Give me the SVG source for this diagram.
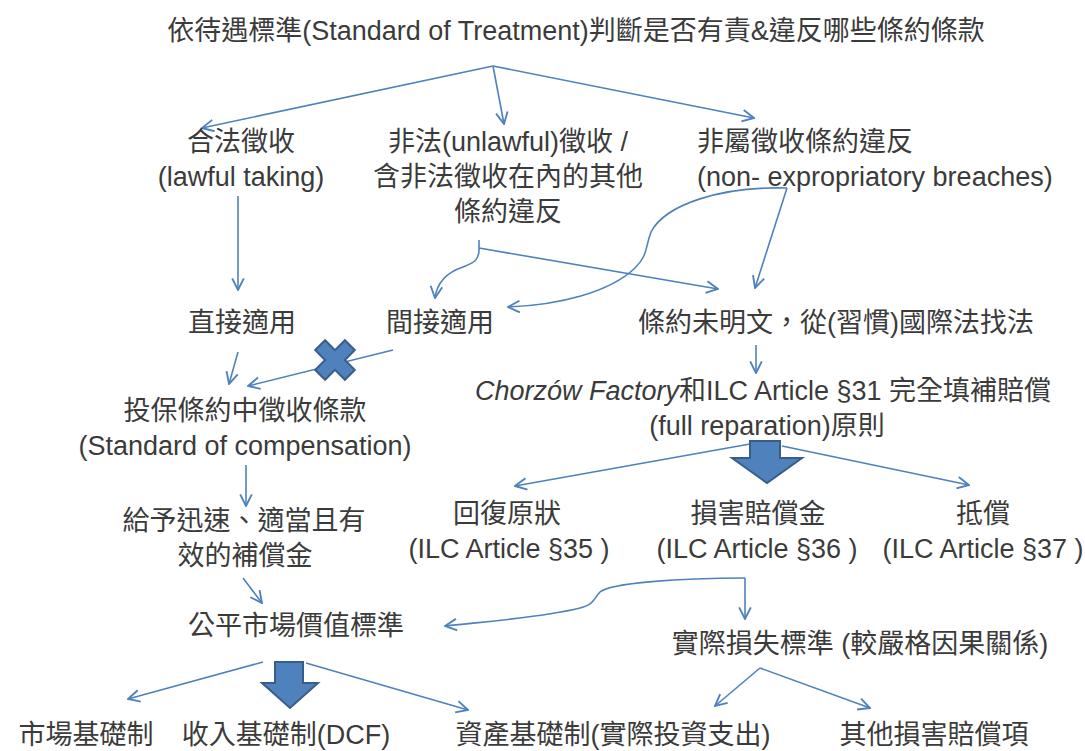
<svg xmlns="http://www.w3.org/2000/svg" width="1085" height="751" viewBox="0 0 1085 751">
<defs>
<style>
text{font-family:"Liberation Sans","Noto Sans CJK TC",sans-serif;font-size:27px;fill:#3b3b3b;text-anchor:middle}
.l{text-anchor:start}
.c{fill:none;stroke:#4F81BD;stroke-width:1.6}
.a{marker-end:url(#ah)}
.big{fill:#4F81BD;stroke:#385D8A;stroke-width:2;stroke-linejoin:miter}
</style>
<marker id="ah" markerUnits="userSpaceOnUse" markerWidth="14" markerHeight="14" viewBox="0 0 12 12" refX="11" refY="6" orient="auto">
<path d="M1,1 L11,6 L1,11" fill="none" stroke="#4F81BD" stroke-width="1.6"/>
</marker>
</defs>
<rect width="1085" height="751" fill="#ffffff"/>
<g id="connectors">
<path class="c a" d="M493,66 L202,128"/>
<path class="c a" d="M493,66 L504,124"/>
<path class="c a" d="M493,66 L754,118"/>
<path class="c a" d="M238,196 L238,290"/>
<path class="c a" d="M479,240 L479,250 C479,262 470,264 463,267 C448,272 437,282 435,298"/>
<path class="c a" d="M479,248 L718,289"/>
<path class="c a" d="M787,188 L755,288"/>
<path class="c a" d="M787,188 C720,186 665,205 651,232 C645,248 648,255 635,268 C610,292 560,305 508,307"/>
<path class="c a" d="M238,352 L229,384"/>
<path class="c a" d="M393,350 L248,386"/>
<path class="c a" d="M756,345 L756,373"/>
<path class="c a" d="M750,444 L515,486"/>
<path class="c a" d="M782,446 L969,485"/>
<path class="c a" d="M246,465 L246,506"/>
<path class="c a" d="M243,578 L262,603"/>
<path class="c a" d="M745,578 L745,619"/>
<path class="c a" d="M745,578 C680,578 610,583 600,592 C594,598 595,604 580,608 C540,618 480,622 445,626"/>
<path class="c a" d="M760,668 L715,706"/>
<path class="c a" d="M760,668 L870,708"/>
<path class="c a" d="M263,662 L128,699"/>
<path class="c a" d="M306,663 L468,710"/>
<polygon class="big" points="750,441 780,441 780,458 802,458 767,483 732,458 750,458"/>
<polygon class="big" points="275,662 303,662 303,683 318,683 290,708 262,683 275,683"/>
<polygon class="big" transform="translate(335,360) rotate(45)" points="-7,-21 7,-21 7,-7 21,-7 21,7 7,7 7,21 -7,21 -7,7 -21,7 -21,-7 -7,-7"/>
</g>
<g id="title"><text x="576" y="40">依待遇標準(Standard of Treatment)判斷是否有責&amp;違反哪些條約條款</text></g>
<g id="lawful"><text x="241" y="151">合法徵收</text><text x="241" y="186">(lawful taking)</text></g>
<g id="unlawful"><text x="508" y="151">非法(unlawful)徵收 /</text><text x="508" y="186">含非法徵收在內的其他</text><text x="508" y="221">條約違反</text></g>
<g id="nonexp"><text class="l" x="697" y="151">非屬徵收條約違反</text><text class="l" x="697" y="186">(non- expropriatory breaches)</text></g>
<g id="direct"><text x="242" y="332">直接適用</text></g>
<g id="indirect"><text x="440" y="332">間接適用</text></g>
<g id="customary"><text x="836" y="332">條約未明文，從(習慣)國際法找法</text></g>
<g id="bit"><text x="245" y="420">投保條約中徵收條款</text><text x="245" y="455">(Standard of compensation)</text></g>
<g id="chorzow"><text x="763" y="400"><tspan font-style="italic">Chorzów Factory</tspan>和ILC Article §31 完全填補賠償</text><text x="767" y="435">(full reparation)原則</text></g>
<g id="restitution"><text x="507" y="523">回復原狀</text><text x="509" y="558">(ILC Article §35 )</text></g>
<g id="compensation"><text x="758" y="523">損害賠償金</text><text x="757" y="558">(ILC Article §36 )</text></g>
<g id="satisfaction"><text x="983" y="523">抵償</text><text x="983" y="558">(ILC Article §37 )</text></g>
<g id="prompt"><text x="244" y="530">給予迅速、適當且有</text><text x="245" y="565">效的補償金</text></g>
<g id="fmv"><text x="296" y="635">公平市場價值標準</text></g>
<g id="actual"><text x="860" y="653">實際損失標準 (較嚴格因果關係)</text></g>
<g id="market"><text x="86" y="744">市場基礎制</text></g>
<g id="income"><text x="286" y="744">收入基礎制(DCF)</text></g>
<g id="asset"><text x="613" y="744">資產基礎制(實際投資支出)</text></g>
<g id="other"><text x="934" y="744">其他損害賠償項</text></g>
</svg>
